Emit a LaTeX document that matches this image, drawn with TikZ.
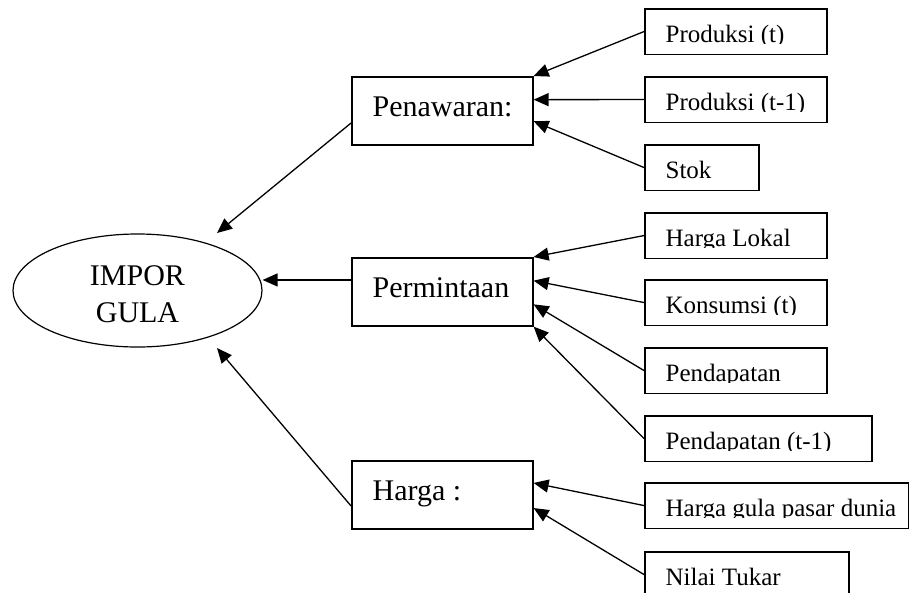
\documentclass[tikz,border=0pt]{standalone}
\usepackage{fontspec}
\setmainfont{Liberation Serif}
\usetikzlibrary{arrows.meta,calc,shapes.geometric}
\tikzset{
  plain/.style={draw=none, minimum width=0pt, minimum height=0pt, inner sep=0pt},
  smallbox/.style={draw, line width=1.6pt, inner sep=0pt, anchor=north west,
    minimum height=45.5pt, minimum width=182pt,
    path picture={\clip ([yshift=10.5pt]path picture bounding box.south west) rectangle (path picture bounding box.north east);
      \node[plain, anchor=base west, font=\fontsize{25}{30}\selectfont]
        at ([xshift=20pt,yshift=-33.5pt]path picture bounding box.north west) {#1};}},
  midbox/.style={draw, line width=1.6pt, inner sep=0pt, anchor=north west,
    minimum height=68pt, minimum width=181pt,
    path picture={\node[plain, anchor=base west, font=\fontsize{30}{36}\selectfont]
        at ([xshift=20pt,yshift=-40pt]path picture bounding box.north west) {#1};}},
  arr/.style={-{Triangle[length=15pt,width=13pt]}, line width=1.3pt},
}
\begin{document}
\begin{tikzpicture}[x=1pt,y=-1pt]
\useasboundingbox (0,0) rectangle (909,592);

\node[ellipse, draw, line width=1.2pt, minimum width=249pt, minimum height=113pt,
      inner sep=0pt, align=center, font=\fontsize{30}{37}\selectfont, text height=63.3pt]
      (imp) at (137.5,290.5) {IMPOR\\GULA};

\node[midbox=Penawaran:] (pen) at (351,76) {};
\node[midbox=Permintaan] (per) at (351,257) {};
\node[midbox=Harga :] (har) at (351,460) {};

\node[smallbox=Produksi (t)] (p1) at (644,8) {};
\node[smallbox=Produksi (t-1)] (p2) at (644,76) {};
\node[smallbox=Stok, minimum width=114pt] (stok) at (644,144) {};
\node[smallbox=Harga Lokal] (hl) at (644,212) {};
\node[smallbox=Konsumsi (t)] (kons) at (644,279) {};
\node[smallbox=Pendapatan] (pend) at (644,347) {};
\node[smallbox=Pendapatan (t-1), minimum width=227pt] (pend1) at (644,415) {};
\node[smallbox=Harga gula pasar dunia, minimum width=264pt] (hg) at (644,482) {};
\node[smallbox=Nilai Tukar, minimum width=204pt] (nt) at (644,551) {};

\coordinate (c1) at (217,233);
\coordinate (c3) at (217,348);

\draw[arr] ($(pen.north west)!0.676!(pen.south west)$) -- (c1);
\draw[arr] ($(per.north west)!0.33!(per.south west)$) coordinate (pe) -- (pe -| imp.east);
\draw[arr] ($(har.north west)!0.66!(har.south west)$) -- (c3);

\draw[arr] (p1.west) -- (pen.north east);
\draw[arr] (p2.west) -- ($(pen.north east)!0.34!(pen.south east)$);
\draw[arr] (stok.west) -- ($(pen.north east)!0.65!(pen.south east)$);

\draw[arr] (hl.west) -- (per.north east);
\draw[arr] (kons.west) -- ($(per.north east)!0.34!(per.south east)$);
\draw[arr] (pend.west) -- ($(per.north east)!0.68!(per.south east)$);
\draw[arr] (pend1.west) -- (per.south east);

\draw[arr] (hg.west) -- ($(har.north east)!0.33!(har.south east)$);
\draw[arr] (nt.west) -- ($(har.north east)!0.69!(har.south east)$);
\end{tikzpicture}
\end{document}
